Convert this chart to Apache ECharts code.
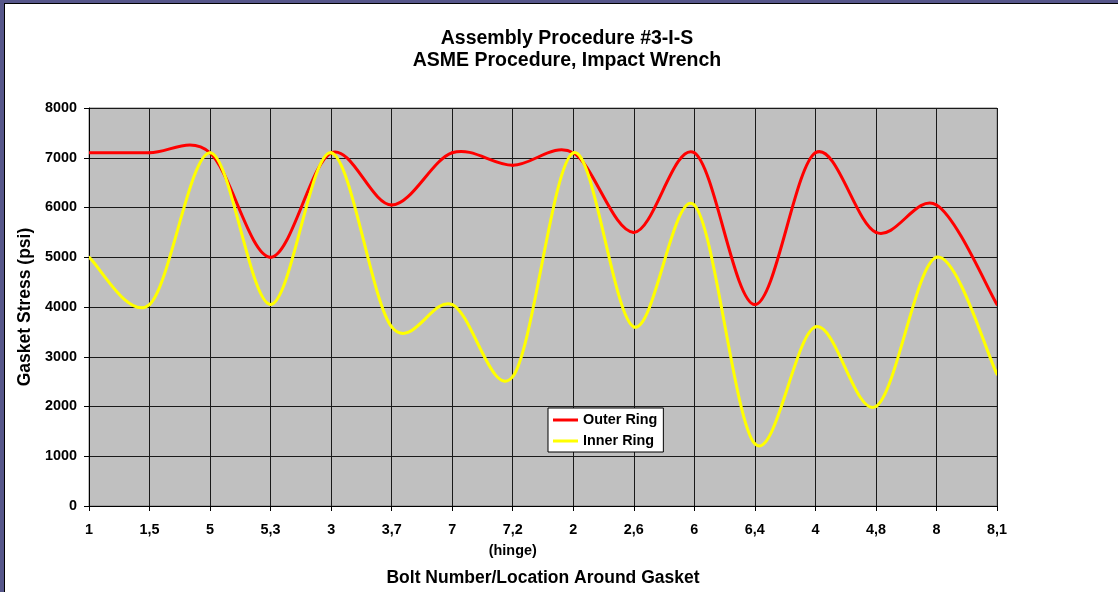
<!DOCTYPE html>
<html>
<head>
<meta charset="utf-8">
<title>Assembly Procedure #3-I-S</title>
<script src="https://cdn.jsdelivr.net/npm/echarts@6/dist/echarts.min.js"></script>
<style>
  html, body { margin: 0; padding: 0; background: #ffffff; }
  #chart { width: 1118px; height: 592px; }
</style>
</head>
<body>
<div id="chart"></div>
<script>
// Bolt numbers / locations around the gasket, in tightening order
const categories = ['1', '1,5', '5', '5,3', '3', '3,7', '7', '7,2', '2', '2,6', '6', '6,4', '4', '4,8', '8', '8,1'];
// Location that sits at the hinge
const hingeLabel = '7,2';
// Gasket stress (psi)
const outerRing = [7100, 7100, 7100, 5000, 7100, 6050, 7100, 6850, 7100, 5500, 7100, 4050, 7100, 5500, 6050, 4050];
const innerRing = [5000, 4050, 7100, 4050, 7100, 3600, 4050, 2600, 7100, 3600, 6050, 1250, 3600, 2000, 5000, 2650];
// Value axis ticks
const yTicks = [0, 1000, 2000, 3000, 4000, 5000, 6000, 7000, 8000];

const FONT = '"Liberation Sans", Arial, sans-serif';
const chart = echarts.init(document.getElementById('chart'), null, { renderer: 'canvas' });

// Smoothed line drawn as Catmull-Rom style Bezier segments through every data point.
// Points are mapped to pixels with the grid's own axes (api.coord).
function smoothRing(name, values, color, z) {
  return {
    name: name,
    type: 'custom',
    z: z,
    clip: true,
    data: values.map((v, i) => [i, v]),
    encode: { x: 0, y: 1 },
    itemStyle: { color: color },
    renderItem: function (params, api) {
      if (params.dataIndex !== 0) return null;
      const pts = values.map((v, i) => api.coord([i, v]));
      const last = pts.length - 1;
      const children = [];
      for (let i = 0; i < last; i++) {
        const p0 = pts[Math.max(i - 1, 0)];
        const p1 = pts[i];
        const p2 = pts[i + 1];
        const p3 = pts[Math.min(i + 2, last)];
        children.push({
          type: 'bezierCurve',
          shape: {
            x1: p1[0], y1: p1[1],
            x2: p2[0], y2: p2[1],
            cpx1: p1[0] + (p2[0] - p0[0]) / 6,
            cpy1: p1[1] + (p2[1] - p0[1]) / 6,
            cpx2: p2[0] - (p3[0] - p1[0]) / 6,
            cpy2: p2[1] - (p3[1] - p1[1]) / 6
          },
          style: { stroke: color, lineWidth: 3, fill: null, lineCap: 'round', lineJoin: 'round' }
        });
      }
      return { type: 'group', children: children };
    }
  };
}

chart.setOption({
  animation: false,
  backgroundColor: '#ffffff',
  textStyle: { fontFamily: FONT },
  title: {
    text: 'Assembly Procedure #3-I-S\nASME Procedure, Impact Wrench',
    left: 567,
    top: 28,
    padding: 0,
    textAlign: 'center',
    textStyle: { fontFamily: FONT, fontSize: 19.5, fontWeight: 'bold', color: '#000', lineHeight: 22 }
  },
  legend: {
    orient: 'vertical',
    left: 548,
    top: 408,
    padding: [5, 6, 4, 5],
    backgroundColor: '#ffffff',
    borderColor: '#000000',
    borderWidth: 1,
    itemWidth: 25,
    itemHeight: 3,
    itemGap: 7,
    icon: 'rect',
    textStyle: { fontFamily: FONT, fontSize: 14.4, fontWeight: 'bold', color: '#000' },
    data: ['Outer Ring', 'Inner Ring']
  },
  grid: {
    left: 89,
    top: 108,
    width: 908,
    height: 398,
    show: true,
    backgroundColor: '#c0c0c0',
    borderColor: '#808080',
    borderWidth: 1,
    containLabel: false
  },
  xAxis: {
    type: 'category',
    data: categories,
    boundaryGap: false,
    name: 'Bolt Number/Location Around Gasket',
    nameLocation: 'middle',
    nameGap: 63,
    nameTextStyle: { fontFamily: FONT, fontSize: 17.5, fontWeight: 'bold', color: '#000' },
    axisLine: { show: true, lineStyle: { color: '#000', width: 1 } },
    axisTick: { show: true, alignWithLabel: true, length: 5, lineStyle: { color: '#000' } },
    axisLabel: {
      interval: 0,
      margin: 14,
      fontFamily: FONT,
      fontSize: 14.4,
      fontWeight: 'bold',
      color: '#000',
      lineHeight: 21,
      formatter: v => (v === hingeLabel ? v + '\n(hinge)' : v)
    },
    splitLine: { show: true, interval: 0, lineStyle: { color: '#1a1a1a', width: 1 } }
  },
  yAxis: {
    type: 'value',
    min: yTicks[0],
    max: yTicks[yTicks.length - 1],
    interval: yTicks[1] - yTicks[0],
    name: 'Gasket Stress (psi)',
    nameLocation: 'middle',
    nameGap: 48,
    nameRotate: 90,
    nameTextStyle: { fontFamily: FONT, fontSize: 17.5, fontWeight: 'bold', color: '#000' },
    axisLine: { show: true, lineStyle: { color: '#000', width: 1 } },
    axisTick: { show: true, length: 5, lineStyle: { color: '#000' } },
    axisLabel: {
      margin: 12,
      fontFamily: FONT,
      fontSize: 14.4,
      fontWeight: 'bold',
      color: '#000',
      formatter: v => String(v)
    },
    splitLine: { show: true, lineStyle: { color: '#1a1a1a', width: 1 } }
  },
  series: [
    smoothRing('Outer Ring', outerRing, '#ff0000', 3),
    smoothRing('Inner Ring', innerRing, '#ffff00', 4)
  ],
  graphic: [
    // slide frame: tinted strips along the top and left edges with a thin dark rule
    { type: 'rect', left: 0, top: 0, shape: { width: 1118, height: 3 }, style: { fill: '#56568a' }, silent: true },
    { type: 'rect', left: 0, top: 0, shape: { width: 4, height: 592 }, style: { fill: '#56568a' }, silent: true },
    { type: 'rect', left: 4, top: 3, shape: { width: 1114, height: 1 }, style: { fill: '#000' }, silent: true },
    { type: 'rect', left: 4, top: 3, shape: { width: 1, height: 589 }, style: { fill: '#000' }, silent: true }
  ]
});
</script>
</body>
</html>
